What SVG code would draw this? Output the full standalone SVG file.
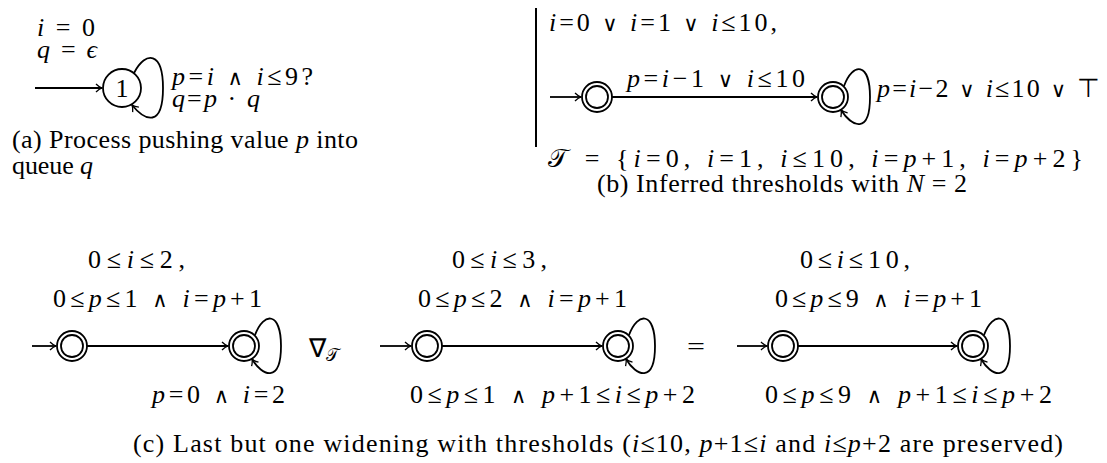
<svg xmlns="http://www.w3.org/2000/svg" width="1107" height="463" viewBox="0 0 1107 463" font-family="'Liberation Serif', 'Times New Roman', serif">
<style>
text { font-family: 'Liberation Serif', 'Times New Roman', serif; fill: #000; }
.m { font-size: 26px; }
.c { font-size: 26px; }
.v { font-style: italic; }
.o { font-family: 'DejaVu Serif', serif; font-size: 21px; }
.st { fill: none; stroke: #000; stroke-width: 1.8; }
.e { fill: none; stroke: #000; stroke-width: 1.8; marker-end: url(#ar); }
</style>
<defs>
<marker id="ar" viewBox="-7 -5 8 10" refX="0" refY="0" markerWidth="8" markerHeight="10" markerUnits="userSpaceOnUse" orient="auto">
<path d="M -6 -4 C -3.5 -1.5 -1.5 -0.5 0 0 C -1.5 0.5 -3.5 1.5 -6 4" fill="none" stroke="#000" stroke-width="1.3"/>
</marker>
</defs>
<rect width="1107" height="463" fill="#fff"/>

<!-- (a) -->
<g id="a-state1">
<circle class="st" cx="122" cy="88" r="19"/>
<text class="m" x="122" y="97" text-anchor="middle">1</text>
</g>
<g id="a-labels">
<text class="m" x="37" y="36" textLength="58" lengthAdjust="spacing"><tspan class="v">i</tspan> = 0</text>
<text class="m" x="37" y="58" textLength="60" lengthAdjust="spacing"><tspan class="v">q</tspan> = <tspan class="v">ϵ</tspan></text>
<text class="m" x="172" y="85" textLength="141" lengthAdjust="spacing"><tspan class="v">p</tspan>=<tspan class="v">i</tspan> <tspan class="o">∧</tspan> <tspan class="v">i</tspan>≤9?</text>
<text class="m" x="172" y="107" textLength="88" lengthAdjust="spacing"><tspan class="v">q</tspan>=<tspan class="v">p</tspan> · <tspan class="v">q</tspan></text>
<text class="c" x="12" y="148" textLength="346" lengthAdjust="spacing">(a) Process pushing value <tspan class="v">p</tspan> into</text>
<text class="c" x="12" y="174" textLength="81" lengthAdjust="spacing">queue <tspan class="v">q</tspan></text>
</g>

<!-- (b) -->
<line x1="536" y1="8" x2="536" y2="147" stroke="#000" stroke-width="2"/>
<g id="b-state1">
<circle class="st" cx="597" cy="97" r="15"/>
<circle class="st" cx="597" cy="97" r="11"/>
</g>
<g id="b-state2">
<circle class="st" cx="833" cy="97" r="15"/>
<circle class="st" cx="833" cy="97" r="11"/>
</g>
<g id="b-labels">
<text class="m" x="549" y="31" textLength="228" lengthAdjust="spacing"><tspan class="v">i</tspan>=0 <tspan class="o">∨</tspan> <tspan class="v">i</tspan>=1 <tspan class="o">∨</tspan> <tspan class="v">i</tspan>≤10,</text>
<text class="m" x="627" y="87" textLength="178" lengthAdjust="spacing"><tspan class="v">p</tspan>=<tspan class="v">i</tspan>−1 <tspan class="o">∨</tspan> <tspan class="v">i</tspan>≤10</text>
<text class="m" x="877" y="97" textLength="223" lengthAdjust="spacing"><tspan class="v">p</tspan>=<tspan class="v">i</tspan>−2 <tspan class="o">∨</tspan> <tspan class="v">i</tspan>≤10 <tspan class="o">∨</tspan> ⊤</text>
<text class="m" x="548" y="167" textLength="535" lengthAdjust="spacing">𝒯 = {<tspan class="v">i</tspan>=0, <tspan class="v">i</tspan>=1, <tspan class="v">i</tspan>≤10, <tspan class="v">i</tspan>=<tspan class="v">p</tspan>+1, <tspan class="v">i</tspan>=<tspan class="v">p</tspan>+2}</text>
<text class="c" x="597" y="192" textLength="370" lengthAdjust="spacing">(b) Inferred thresholds with <tspan class="v">N</tspan> = 2</text>
</g>

<!-- (c) -->
<g id="c1-state1"><circle class="st" cx="72" cy="346" r="15"/><circle class="st" cx="72" cy="346" r="11"/></g>
<g id="c1-state2"><circle class="st" cx="244" cy="346" r="15"/><circle class="st" cx="244" cy="346" r="11"/></g>
<g id="c2-state1"><circle class="st" cx="427" cy="346" r="15"/><circle class="st" cx="427" cy="346" r="11"/></g>
<g id="c2-state2"><circle class="st" cx="618" cy="346" r="15"/><circle class="st" cx="618" cy="346" r="11"/></g>
<g id="c3-state1"><circle class="st" cx="783" cy="346" r="15"/><circle class="st" cx="783" cy="346" r="11"/></g>
<g id="c3-state2"><circle class="st" cx="973" cy="346" r="15"/><circle class="st" cx="973" cy="346" r="11"/></g>

<g id="c-labels">
<text class="m" x="88" y="268" textLength="97" lengthAdjust="spacing">0≤<tspan class="v">i</tspan>≤2,</text>
<text class="m" x="53" y="307" textLength="209" lengthAdjust="spacing">0≤<tspan class="v">p</tspan>≤1 <tspan class="o">∧</tspan> <tspan class="v">i</tspan>=<tspan class="v">p</tspan>+1</text>
<text class="m" x="152" y="403" textLength="133" lengthAdjust="spacing"><tspan class="v">p</tspan>=0 <tspan class="o">∧</tspan> <tspan class="v">i</tspan>=2</text>
<text class="m" x="309" y="357">∇<tspan font-size="17" dy="4">𝒯</tspan></text>
<text class="m" x="452" y="268" textLength="95" lengthAdjust="spacing">0≤<tspan class="v">i</tspan>≤3,</text>
<text class="m" x="418" y="307" textLength="209" lengthAdjust="spacing">0≤<tspan class="v">p</tspan>≤2 <tspan class="o">∧</tspan> <tspan class="v">i</tspan>=<tspan class="v">p</tspan>+1</text>
<text class="m" x="410" y="403" textLength="285" lengthAdjust="spacing">0≤<tspan class="v">p</tspan>≤1 <tspan class="o">∧</tspan> <tspan class="v">p</tspan>+1≤<tspan class="v">i</tspan>≤<tspan class="v">p</tspan>+2</text>
<text class="m" x="687" y="355" textLength="18" lengthAdjust="spacingAndGlyphs">=</text>
<text class="m" x="800" y="268" textLength="110" lengthAdjust="spacing">0≤<tspan class="v">i</tspan>≤10,</text>
<text class="m" x="775" y="307" textLength="207" lengthAdjust="spacing">0≤<tspan class="v">p</tspan>≤9 <tspan class="o">∧</tspan> <tspan class="v">i</tspan>=<tspan class="v">p</tspan>+1</text>
<text class="m" x="765" y="403" textLength="287" lengthAdjust="spacing">0≤<tspan class="v">p</tspan>≤9 <tspan class="o">∧</tspan> <tspan class="v">p</tspan>+1≤<tspan class="v">i</tspan>≤<tspan class="v">p</tspan>+2</text>
<text class="c" x="133" y="452" textLength="930" lengthAdjust="spacing">(c) Last but one widening with thresholds (<tspan class="v">i</tspan>≤10, <tspan class="v">p</tspan>+1≤<tspan class="v">i</tspan> and <tspan class="v">i</tspan>≤<tspan class="v">p</tspan>+2 are preserved)</text>
</g>

<g id="connectors">
<path class="e" d="M 35 88 L 102 88"/>
<path class="e" d="M 134 73 C 146 50 163 52 163 88 C 163 128 145 121 132 105"/>

<path class="e" d="M 550 97 L 581 97"/>
<path class="e" d="M 612 97 L 817 97"/>
<path class="e" d="M 844 86 C 853 62 870 62 870 97 C 870 135 852 127 841 110"/>

<path class="e" d="M 32 346 L 56 346"/>
<path class="e" d="M 87 346 L 228 346"/>
<path class="e" d="M 255 335 C 264 311 281 312 281 346 C 281 384 262 376 252 359"/>

<path class="e" d="M 380 346 L 411 346"/>
<path class="e" d="M 442 346 L 602 346"/>
<path class="e" d="M 629 335 C 638 311 655 312 655 346 C 655 384 636 376 626 359"/>

<path class="e" d="M 737 346 L 767 346"/>
<path class="e" d="M 798 346 L 957 346"/>
<path class="e" d="M 984 335 C 993 311 1010 312 1010 346 C 1010 384 991 376 981 359"/>
</g>
</svg>
